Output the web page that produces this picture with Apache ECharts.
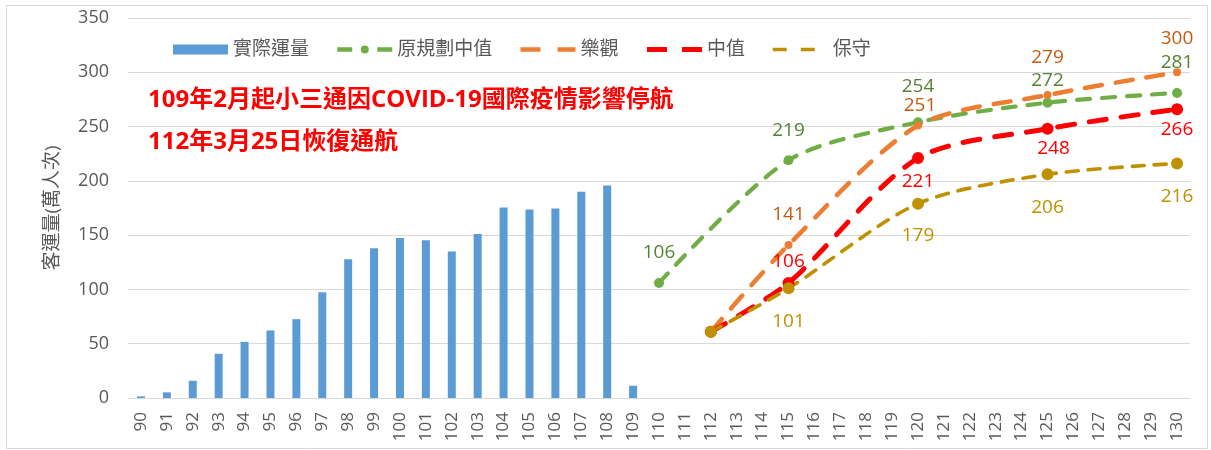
<!DOCTYPE html>
<html>
<head>
<meta charset="utf-8">
<script src="https://cdn.jsdelivr.net/npm/echarts@6/dist/echarts.min.js"></script>
<style>
html,body{margin:0;padding:0;background:#fff;}
#chart{width:1211px;height:450px;}
</style>
</head>
<body>
<div id="chart"></div>
<script>
// ---- data ----
const categories = ['90','91','92','93','94','95','96','97','98','99','100','101','102','103','104','105','106','107','108','109','110','111','112','113','114','115','116','117','118','119','120','121','122','123','124','125','126','127','128','129','130'];
const actualValues = [1.5,5.2,15.9,40.7,51.7,62.2,72.6,97.4,127.7,138,147.3,145.4,135,151,175.5,173.6,174.5,189.9,195.7,11.3];
const planYears = ['110','115','120','125','130'];
const planValues = [106,219,254,272,281];
const scenarioYears = ['112','115','120','125','130'];
const optimisticValues = [61,141,251,279,300];
const medianValues = [61,106,221,248,266];
const conservativeValues = [61,101,179,206,216];
const yTicks = [0,50,100,150,200,250,300,350];
const seriesNames = ['實際運量','原規劃中值','樂觀','中值','保守'];
const yAxisTitle = '客運量(萬人次)';
const noteLines = ['109年2月起小三通因COVID-19國際疫情影響停航','112年3月25日恢復通航'];

// ---- styles (positions / offsets for labels) ----
const planLabelOff = [[0,-30],[0,-30],[0,-36],[0,-22],[0,-30]];
const optLabelOff = [null,[0,-30],[2,-20],[0,-37],[0,-34]];
const medLabelOff = [null,[0,-21],[0,24],[6,20],[0,20]];
const conLabelOff = [null,[0,33],[0,32],[0,33],[0,33]];

const FONT = '"Open Sans","Noto Sans CJK TC",sans-serif';
const GRAY = '#595959';

function mkLine(name, years, vals, color, labelColor, width, dash, symSize, offs) {
  return {
    name: name,
    type: 'line',
    smooth: 0.28,
    symbol: 'circle',
    symbolSize: symSize,
    showAllSymbol: true,
    itemStyle: {color: color},
    lineStyle: {color: color, width: width, type: dash, cap: 'round'},
    emphasis: {disabled: true},
    data: years.map(function (y, i) {
      const o = offs[i];
      return {
        value: [y, vals[i]],
        label: o ? {show: true, position: 'inside', offset: o, color: labelColor,
                    fontSize: 19, fontFamily: FONT, formatter: '{@[1]}'} : {show: false}
      };
    })
  };
}

const chart = echarts.init(document.getElementById('chart'), null, {renderer: 'canvas'});
chart.setOption({
  animation: false,
  backgroundColor: '#ffffff',
  textStyle: {fontFamily: FONT},
  grid: {left: 128, right: 21, top: 18, bottom: 52, containLabel: false},
  legend: {
    left: 168, top: 35,
    itemWidth: 55, itemHeight: 10, itemGap: 26,
    textStyle: {color: GRAY, fontSize: 19, fontFamily: FONT},
    data: [
      {name: seriesNames[0], icon: 'rect'},
      {name: seriesNames[1], lineStyle: {type: [15, 25], width: 4.5, cap: 'butt'}},
      {name: seriesNames[2], itemStyle: {opacity: 0}, lineStyle: {type: [20, 17], width: 4.5, cap: 'butt'}},
      {name: seriesNames[3], itemStyle: {opacity: 0}, lineStyle: {type: [20, 15], width: 5, cap: 'butt'}},
      {name: seriesNames[4], itemStyle: {opacity: 0}, lineStyle: {type: [14, 14], width: 3.5, cap: 'butt'}}
    ]
  },
  xAxis: {
    type: 'category',
    data: categories,
    boundaryGap: true,
    axisLine: {lineStyle: {color: '#D9D9D9', width: 1}},
    axisTick: {show: false},
    axisLabel: {interval: 0, rotate: 90, margin: 14, color: GRAY, fontSize: 17, fontFamily: FONT},
    splitLine: {show: false}
  },
  yAxis: {
    type: 'value',
    min: yTicks[0], max: yTicks[yTicks.length - 1], interval: 50,
    name: yAxisTitle,
    nameLocation: 'middle',
    nameGap: 66,
    nameRotate: 90,
    nameTextStyle: {color: GRAY, fontSize: 19, fontFamily: FONT},
    axisLine: {show: false},
    axisTick: {show: false},
    axisLabel: {color: GRAY, fontSize: 18, margin: 19, fontFamily: FONT},
    splitLine: {lineStyle: {color: '#D9D9D9', width: 1}}
  },
  graphic: [
    {type: 'rect', shape: {x: 6.5, y: 5.5, width: 1201, height: 443}, style: {fill: 'none', stroke: '#D9D9D9', lineWidth: 1}, silent: true, z: -1},
    {type: 'text', left: 148, top: 88, style: {text: noteLines[0], fill: '#FF0000', font: 'bold 24px ' + FONT}},
    {type: 'text', left: 148, top: 130, style: {text: noteLines[1], fill: '#FF0000', font: 'bold 24px ' + FONT}}
  ],
  series: [
    {
      name: seriesNames[0], type: 'bar', barWidth: 8,
      itemStyle: {color: '#5B9BD5'},
      emphasis: {disabled: true},
      data: actualValues
    },
    mkLine(seriesNames[1], planYears, planValues, '#70AD47', '#548235', 4.2, [13, 12], 10, planLabelOff),
    mkLine(seriesNames[2], scenarioYears, optimisticValues, '#ED7D31', '#C55A11', 4.5, [17, 14], 8, optLabelOff),
    mkLine(seriesNames[3], scenarioYears, medianValues, '#FF0000', '#FF0000', 5, [17, 15], 12, medLabelOff),
    mkLine(seriesNames[4], scenarioYears, conservativeValues, '#BF9000', '#BF9000', 3.6, [12, 10], 12, conLabelOff)
  ]
});
</script>
</body>
</html>
